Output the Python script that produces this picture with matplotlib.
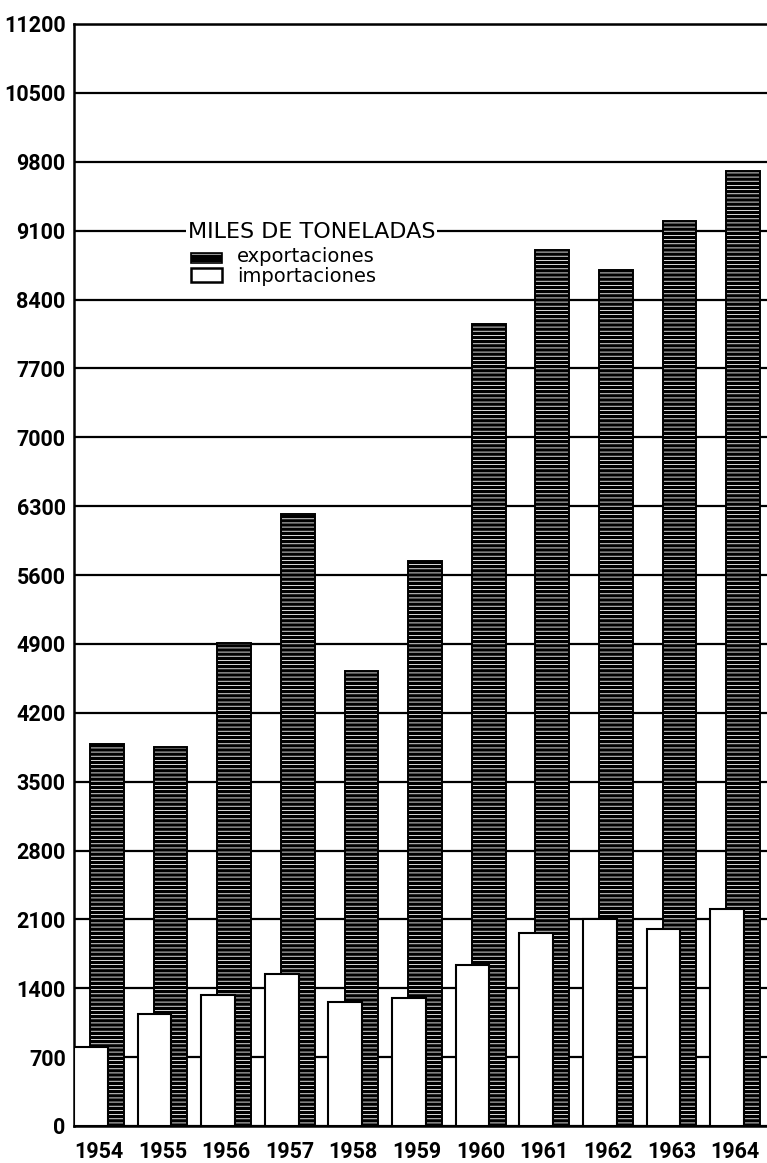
import matplotlib
matplotlib.use("Agg")
import matplotlib.pyplot as plt
import matplotlib.patches as mpatches
import numpy as np

# Miles de toneladas, 1954-1964
years = ["1954", "1955", "1956", "1957", "1958", "1959",
         "1960", "1961", "1962", "1963", "1964"]
exportaciones = [3880, 3850, 4910, 6220, 4620, 5740, 8150, 8900, 8700, 9200, 9710]
importaciones = [800, 1140, 1330, 1540, 1260, 1300, 1640, 1960, 2100, 2000, 2210]
y_ticks = list(range(0, 11201, 700))

W, H = 767, 1163
plt.rcParams["hatch.linewidth"] = 0.6

fig = plt.figure(figsize=(W / 100, H / 100), dpi=100)
ax = fig.add_axes([74 / W, 37 / H, 1 - 74 / W, (1126 - 24) / H])

x = np.arange(len(years))
width = 0.53
shift = 0.126

# export bars: black with white horizontal lines, drawn behind the import bars
ax.bar(x + shift, exportaciones, width, color="black", edgecolor="white",
       hatch="----", linewidth=0, zorder=2)
ax.bar(x + shift, exportaciones, width, fill=False, edgecolor="black",
       linewidth=1.4, zorder=2.1)
# import bars in front
ax.bar(x - shift, importaciones, width, color="white", edgecolor="black",
       linewidth=1.5, zorder=3)

ax.set_xlim(-0.39, 10.5)
ax.set_ylim(0, 11200)
ax.set_yticks(y_ticks)
ax.set_xticks(x)
ax.set_xticklabels(years)
ax.grid(axis="y", color="black", linewidth=1.6)
ax.set_axisbelow(True)

for side in ["left", "top", "bottom"]:
    ax.spines[side].set_linewidth(1.8)
ax.spines["right"].set_visible(False)

ax.tick_params(length=0)
ax.tick_params(axis="y", pad=6)
ax.tick_params(axis="x", pad=11)
for lab in ax.get_yticklabels() + ax.get_xticklabels():
    lab.set_fontfamily("Roboto")
    lab.set_fontweight("bold")
    lab.set_fontsize(15.5)

# legend, drawn by hand as in the original
ax.text((188 - 74) / 693, 9100 - 80, "MILES DE TONELADAS",
        transform=ax.get_yaxis_transform(), fontsize=16, va="baseline",
        ha="left", zorder=5,
        bbox=dict(boxstyle="square,pad=0.08", facecolor="white", edgecolor="none"))

exp_patch = mpatches.Rectangle((191 / W, 1 - 263 / H), 31 / W, 10 / H,
                               transform=fig.transFigure, facecolor="black",
                               edgecolor="white", hatch="--", linewidth=0)
exp_edge = mpatches.Rectangle((191 / W, 1 - 263 / H), 31 / W, 10 / H,
                              transform=fig.transFigure, fill=False,
                              edgecolor="black", linewidth=1.2)
imp_patch = mpatches.Rectangle((191 / W, 1 - 282 / H), 31 / W, 14 / H,
                               transform=fig.transFigure, facecolor="white",
                               edgecolor="black", linewidth=1.8)
for p in (exp_patch, exp_edge, imp_patch):
    fig.add_artist(p)

fig.text(237 / W, 1 - 262 / H, "exportaciones", fontsize=14, va="baseline", ha="left")
fig.text(237 / W, 1 - 282 / H, "importaciones", fontsize=14, va="baseline", ha="left")

fig.savefig("out.png", dpi=100, facecolor="white")
